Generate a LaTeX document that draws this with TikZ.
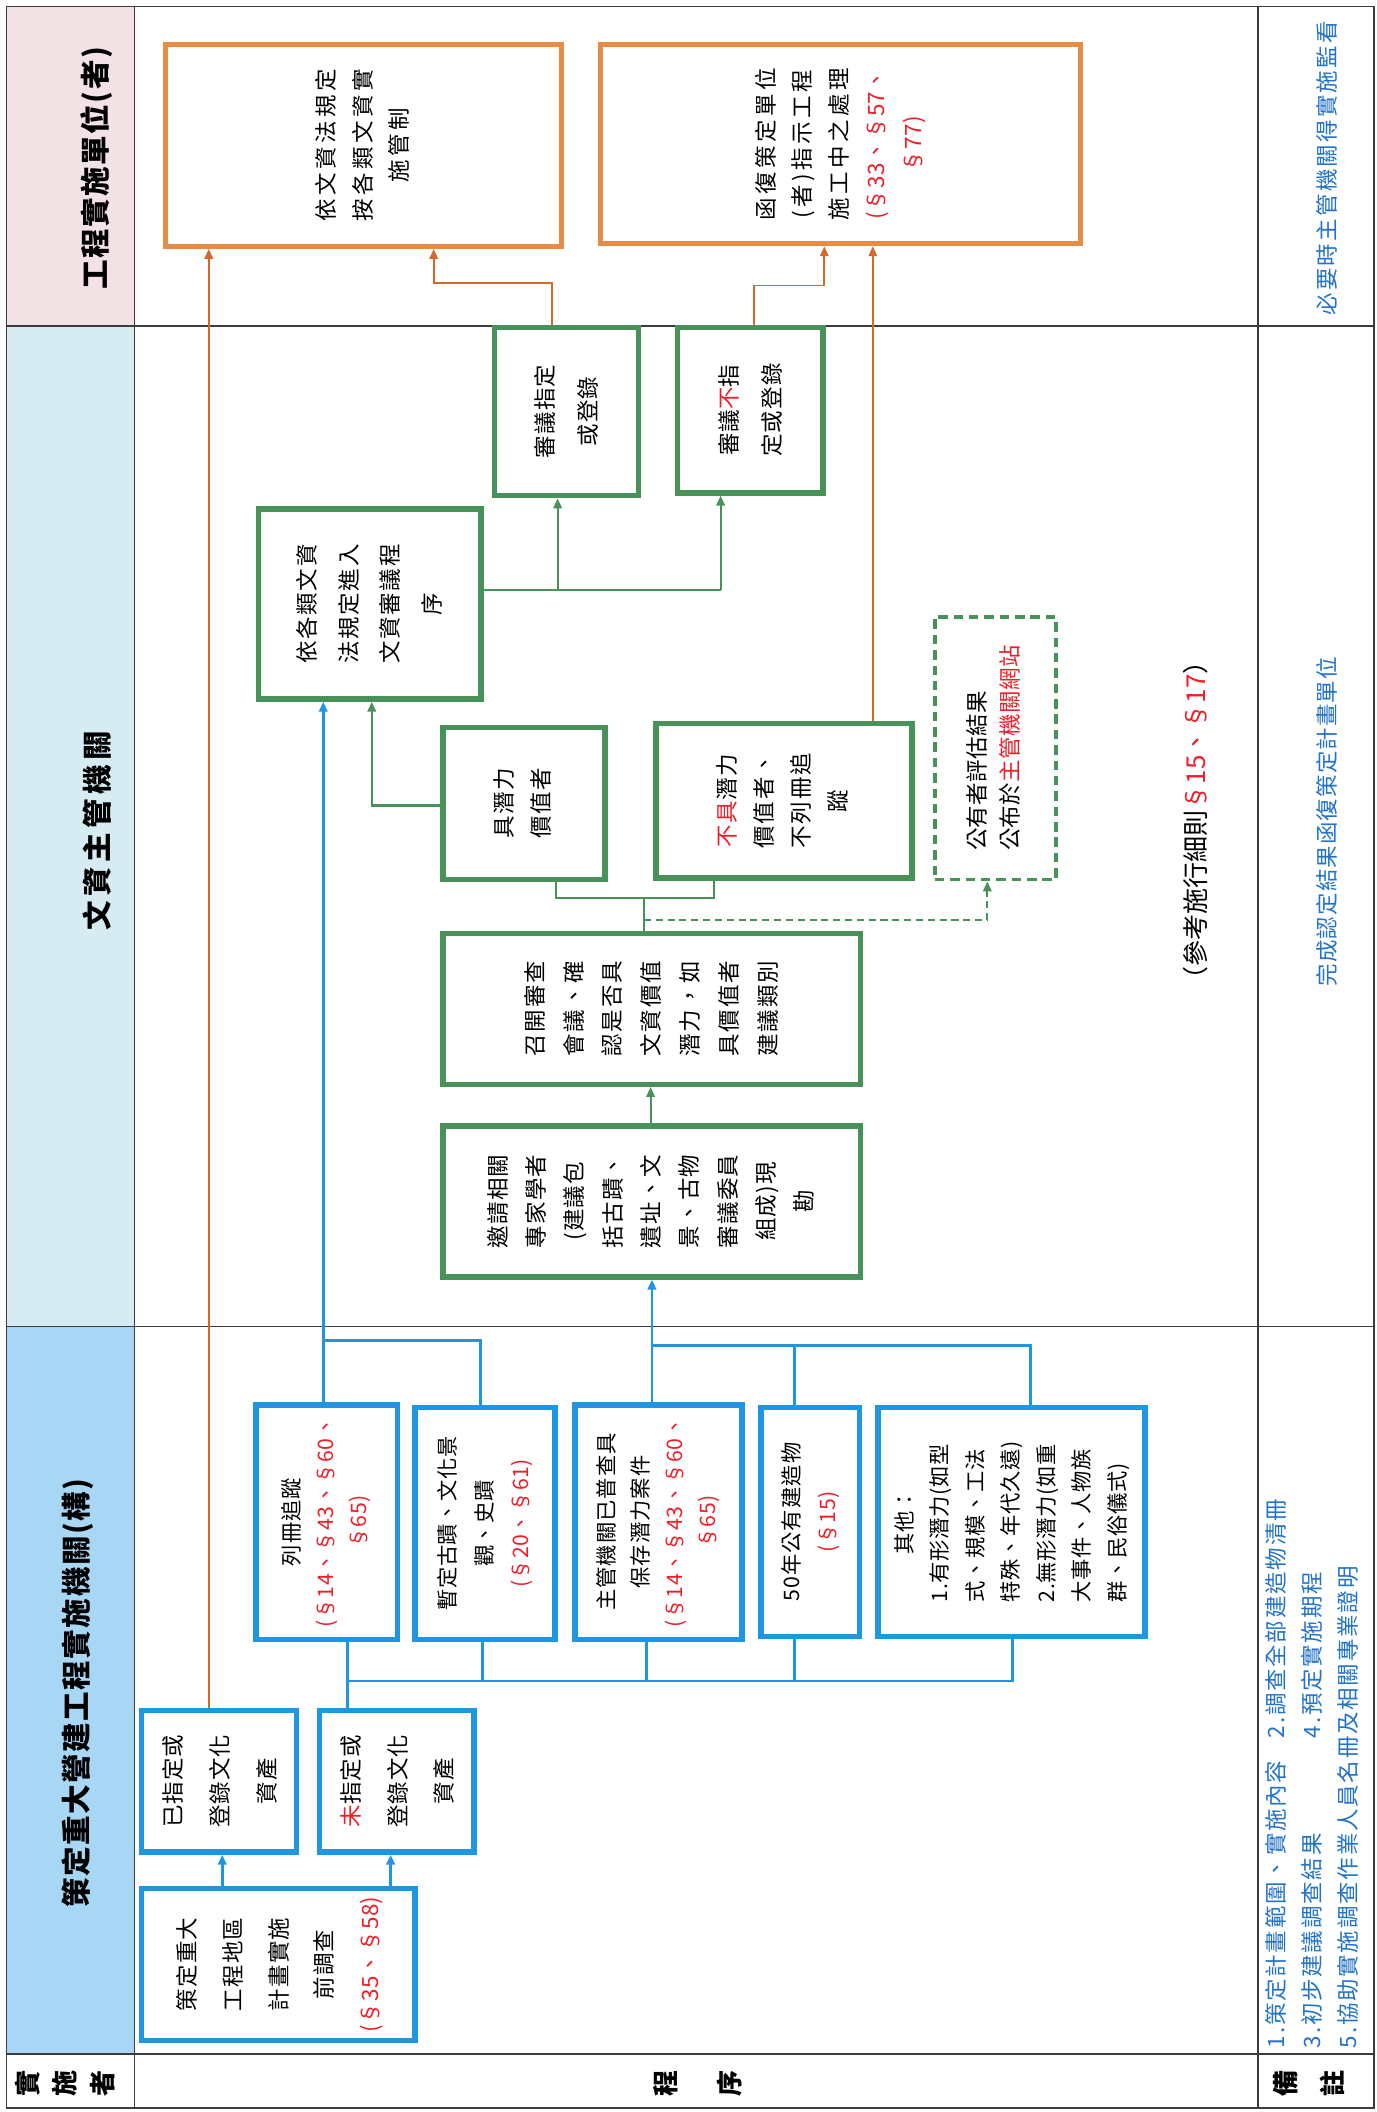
\documentclass[tikz,border=0pt]{standalone}
\usepackage{fontspec}
\setmainfont{Noto Sans CJK TC}
\usetikzlibrary{arrows.meta}
\definecolor{cBlue}{RGB}{30,150,225}
\definecolor{cGreen}{RGB}{72,145,88}
\definecolor{cOrange}{RGB}{230,140,70}
\definecolor{cOrLine}{RGB}{215,105,40}
\definecolor{cRed}{RGB}{240,30,40}
\definecolor{cNote}{RGB}{35,115,200}
\definecolor{cPink}{RGB}{242,226,230}
\definecolor{cCyan}{RGB}{214,236,242}
\definecolor{cSky}{RGB}{168,214,245}
\definecolor{cFrame}{RGB}{60,60,60}
\newcommand\R[1]{\textcolor{cRed}{#1}}
\newcommand\Rs[1]{\textcolor{cRed}{\addfontfeatures{LetterSpace=2}#1}}
\newcommand\rt[4]{\rotatebox{90}{\fontsize{#1}{#2}\selectfont\addfontfeatures{LetterSpace=#3}\begin{tabular}{@{}c@{}}#4\end{tabular}}}
\newcommand\rtl[4]{\rotatebox{90}{\fontsize{#1}{#2}\selectfont\addfontfeatures{LetterSpace=#3}\begin{tabular}{@{}l@{}}#4\end{tabular}}}
\newcommand\bxn[7]{\node[#1, minimum width={(#5-#3)*0.02cm}, minimum height={(#6-#4)*0.02cm}] (#2) at ({(#3+#5)/2},{(#4+#6)/2}) {#7};}
\begin{document}
\begin{tikzpicture}[x=0.02cm,y=-0.02cm,
  every node/.style={inner sep=0pt},
  bbox/.style={draw=cBlue, line width=2.3pt, fill=white},
  gbox/.style={draw=cGreen, line width=2.3pt, fill=white},
  dbox/.style={draw=cGreen, line width=1.6pt, dash pattern=on 4pt off 2.5pt, fill=white},
  obox/.style={draw=cOrange, line width=2.1pt, fill=white},
  frame/.style={draw=cFrame, line width=0.6pt},
  bl/.style={draw=cBlue, line width=1.2pt},
  gl/.style={draw=cGreen, line width=0.9pt},
  ol/.style={draw=cOrLine, line width=0.8pt},
  tip/.style={-{Triangle[length=4.2pt,width=3.6pt]}},
  hdr/.style={font=\fontsize{12.5}{14}\selectfont\bfseries},
  note/.style={text=cNote}
]
\useasboundingbox (0,0) rectangle (1022,1568);
\fill[white] (0,0) rectangle (1022,1568);
% header fills
\fill[cPink] (5,5) rectangle (100,242);
\fill[cCyan] (5,242) rectangle (100,985);
\fill[cSky] (5,985) rectangle (100,1525);
% frame
\draw[frame] (5,5) rectangle (1020,1565);
\draw[frame] (100,5) -- (100,1565);
\draw[frame] (934,5) -- (934,1565);
\draw[frame] (5,242) -- (1020,242);
\draw[frame] (5,985) -- (1020,985);
\draw[frame] (5,1525) -- (1020,1525);
% header texts
\node[hdr] (h1) at (72,125) {\rotatebox{90}{\addfontfeatures{LetterSpace=5}工程實施單位(者)}};
\node[hdr] (h2) at (72,617) {\rotatebox{90}{\addfontfeatures{LetterSpace=15}文資主管機關}};
\node[hdr] (h3) at (58,1257) {\rotatebox{90}{\addfontfeatures{LetterSpace=5}策定重大營建工程實施機關(構)}};
\node[font=\bfseries] (f1) at (50,1547) {\rotatebox{90}{\fontsize{11}{16}\selectfont\begin{tabular}{@{}c@{}}實\\施\\者\end{tabular}}};
\node[font=\bfseries] (f2) at (516,1547) {\rotatebox{90}{\fontsize{11}{27}\selectfont\begin{tabular}{@{}c@{}}程\\序\end{tabular}}};
\node[font=\bfseries] (f3) at (972,1547) {\rotatebox{90}{\fontsize{11}{20}\selectfont\begin{tabular}{@{}c@{}}備\\註\end{tabular}}};
% remarks
\node[note] (n1) at (985,125) {\rotatebox{90}{\fontsize{9.5}{12}\selectfont\addfontfeatures{LetterSpace=10}必要時主管機關得實施監看}};
\node[note] (n2) at (985,610) {\rotatebox{90}{\fontsize{9.5}{12}\selectfont\addfontfeatures{LetterSpace=5}完成認定結果函復策定計畫單位}};
\node[note, anchor=south] (n3) at (975,1521) {\rotatebox{90}{\fontsize{9.5}{15.3}\selectfont\addfontfeatures{LetterSpace=8}\begin{tabular}{@{}l@{}}\makebox[131pt][l]{1.策定計畫範圍、實施內容}2.調查全部建造物清冊\\\makebox[131pt][l]{3.初步建議調查結果}4.預定實施期程\\5.協助實施調查作業人員名冊及相關專業證明\end{tabular}}};
\node (ref) at (888,609) {\rotatebox{90}{\fontsize{11}{13}\selectfont （參考施行細則\R{§15、§17}）}};
% top row boxes
\bxn{obox}{oA}{123}{33}{417}{183}{\rt{9.5}{15.6}{16}{依文資法規定\\按各類文資實\\施管制}}
\bxn{obox}{oB}{446}{33}{802}{181}{\rt{9.5}{15.6}{16}{函復策定單位\\(者)指示工程\\施工中之處理\\\Rs{(§33、§57、}\\\Rs{§77)}}}
% middle boxes
\bxn{gbox}{sy}{367}{243}{474}{368}{\rt{9.5}{18}{5}{審議指定\\或登錄}}
\bxn{gbox}{sn}{503}{243}{611}{366}{\rt{9.5}{18.5}{5}{審議\R{不}指\\定或登錄}}
\bxn{gbox}{yg}{192}{378}{357}{519}{\rt{9.5}{17.5}{8}{依各類文資\\法規定進入\\文資審議程\\序}}
\bxn{gbox}{jq}{329}{540}{449}{653}{\rt{9.5}{15.5}{8}{具潛力\\價值者}}
\bxn{gbox}{bj}{487}{537}{677}{652}{\rt{9.5}{15.6}{8}{\R{不具}潛力\\價值者、\\不列冊追\\蹤}}
\bxn{dbox}{dz}{694}{458}{784}{653}{\rtl{9.5}{14.2}{2}{公有者評估結果\\公布於\R{主管機關網站}}}
\bxn{gbox}{zk}{329}{693}{639}{805}{\rt{9.5}{16.4}{8}{召開審查\\會議、確\\認是否具\\文資價值\\潛力，如\\具價值者\\建議類別}}
\bxn{gbox}{yq}{329}{836}{639}{948}{\rt{9.5}{16.2}{5}{邀請相關\\專家學者\\(建議包\\括古蹟、\\遺址、文\\景、古物\\審議委員\\組成)現\\勘}}
% bottom boxes
\bxn{bbox}{lc}{190}{1043}{295}{1217}{\rt{9}{14.2}{5}{列冊追蹤\\\Rs{(§14、§43、§60、}\\\Rs{§65)}}}
\bxn{bbox}{zd}{308}{1045}{412}{1217}{\rt{9}{15.3}{3}{暫定古蹟、文化景\\觀、史蹟\\\Rs{(§20、§61)}}}
\bxn{bbox}{zg}{427}{1043}{551}{1217}{\rt{9}{14.2}{5}{主管機關已普查具\\保存潛力案件\\\Rs{(§14、§43、§60、}\\\Rs{§65)}}}
\bxn{bbox}{wn}{565}{1045}{638}{1215}{\rt{9}{15.3}{5}{50年公有建造物\\\Rs{(§15)}}}
\bxn{bbox}{qt}{652}{1045}{850}{1215}{\rtl{9}{15}{3}{\multicolumn{1}{@{}c@{}}{其他：}\\1.有形潛力(如型\\式、規模、工法\\特殊、年代久遠)\\2.無形潛力(如重\\大事件、人物族\\群、民俗儀式)}}
\bxn{bbox}{yz}{105}{1270}{220}{1375}{\rt{9.5}{19.8}{5}{已指定或\\登錄文化\\資產}}
\bxn{bbox}{wz}{237}{1270}{352}{1375}{\rt{9.5}{19.8}{5}{\R{未}指定或\\登錄文化\\資產}}
\bxn{bbox}{cd}{105}{1402}{308}{1515}{\rt{9.5}{19.3}{5}{策定重大\\工程地區\\計畫實施\\前調查\\\Rs{(§35、§58)}}}
% blue connectors
\draw[bl,tip] (cd.north -| 165,0) -- (yz.south -| 165,0);
\draw[bl,tip] (cd.north -| 290,0) -- (wz.south -| 290,0);
\draw[bl] (wz.north -| 258,0) -- (258,1248);
\draw[bl] (lc.south -| 258,0) -- (258,1248) -- (752,1248) -- (qt.south -| 752,0);
\draw[bl] (zd.south -| 358,0) -- (358,1248);
\draw[bl] (zg.south -| 480,0) -- (480,1248);
\draw[bl] (wn.south -| 590,0) -- (590,1248);
\draw[bl,tip] (lc.north -| 240,0) -- (yg.south -| 240,0);
\draw[bl] (zd.north -| 357,0) |- (240,995);
\draw[bl,tip] (zg.north -| 484,0) -- (yq.south -| 484,0);
\draw[bl] (484,999) -| (qt.north -| 765,0);
\draw[bl] (wn.north -| 590,0) -- (590,999);
% green connectors
\draw[gl,tip] (yq.north -| 483,0) -- (zk.south -| 483,0);
\draw[gl] (zk.north -| 478,0) -- (478,667);
\draw[gl] (jq.south -| 413,0) |- (530,667) -- (bj.south -| 530,0);
\draw[gl,dash pattern=on 3pt off 2pt,tip] (478,683) -| (dz.south -| 733,0);
\draw[gl] (478,667) -- (478,683);
\draw[gl,tip] (jq.west |- 0,598) -| (yg.south -| 276,0);
\draw[gl] (yg.east |- 0,438) -- (535,438);
\draw[gl,tip] (414,438) -- (sy.south -| 414,0);
\draw[gl,tip] (535,438) -- (sn.south -| 535,0);
% orange connectors
\draw[ol,tip] (yz.north -| 155,0) -- (oA.south -| 155,0);
\draw[ol,tip] (sy.north -| 410,0) |- (322,210) -- (oA.south -| 322,0);
\draw[ol,tip] (sn.north -| 560,0) |- (612,212) -- (oB.south -| 612,0);
\draw[ol,tip] (bj.north -| 648,0) -- (oB.south -| 648,0);
\end{tikzpicture}
\end{document}
